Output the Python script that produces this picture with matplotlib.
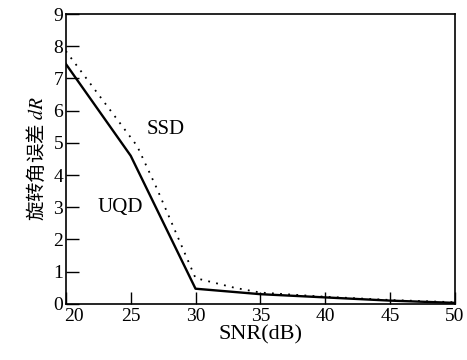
import matplotlib.pyplot as plt
import matplotlib.transforms as mtransforms

plt.rcParams['font.family'] = ['Liberation Serif', 'Noto Sans CJK SC']
plt.rcParams['mathtext.fontset'] = 'stix'

snr = [20, 25, 30, 35, 40, 45, 50]
uqd = [7.45, 4.6, 0.47, 0.3, 0.2, 0.1, 0.03]
snr_ssd = [20, 25.5, 27, 30, 33, 35, 40, 45, 50]
ssd = [7.85, 4.9, 3.6, 0.8, 0.5, 0.35, 0.22, 0.12, 0.05]

fig = plt.figure(figsize=(4.67, 3.6), dpi=100)
ax = fig.add_axes([0.141, 0.156, 0.833, 0.805])

ax.plot(snr, uqd, color='black', linewidth=1.7)
ax.plot(snr_ssd, ssd, color='black', linestyle=(0, (1, 3.5)), linewidth=1.3)

ax.text(27.7, 5.4, 'SSD', fontsize=15, ha='center', va='center')
ax.text(24.2, 3.0, 'UQD', fontsize=15, ha='center', va='center')

ax.set_xlim(20, 50)
ax.set_ylim(0, 9)
ax.set_xticks([20, 25, 30, 35, 40, 45, 50])
ax.set_yticks(range(10))
ax.tick_params(direction='in', length=9, width=1, labelsize=14, pad=3)
ax.tick_params(axis='y', pad=2)

# nudge the first x label right so it clears the "0"
first = ax.get_xticklabels()[0]
first.set_transform(first.get_transform() + mtransforms.ScaledTranslation(6 / 72, 0, fig.dpi_scale_trans))

for s in ax.spines.values():
    s.set_linewidth(1.2)

ax.set_xlabel('SNR(dB)', fontsize=16, labelpad=0)
ax.set_ylabel('旋转角误差 $dR$', fontsize=14, labelpad=4,
              family=['Noto Sans CJK SC', 'DejaVu Sans'])

fig.savefig('out.png', dpi=100)
